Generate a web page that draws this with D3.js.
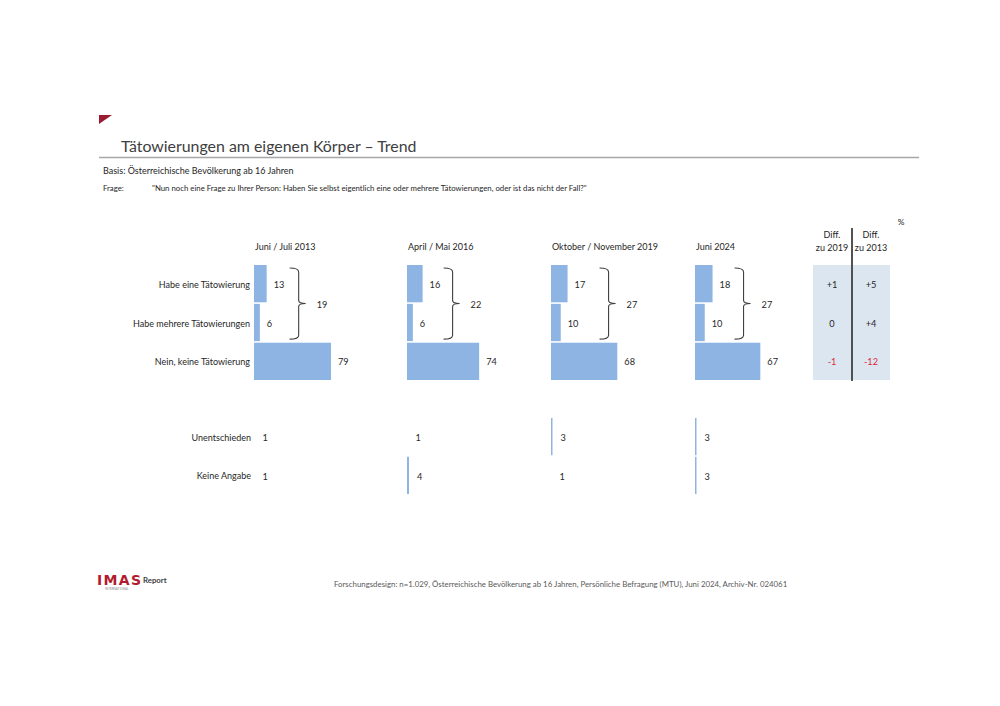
<!DOCTYPE html>
<html>
<head>
<meta charset="utf-8">
<script src="https://cdn.jsdelivr.net/npm/d3@7"></script>
<style>
  html, body { margin: 0; padding: 0; background: #fff; }
  svg text { font-family: Lato, "Open Sans", sans-serif; fill: #262626; }
</style>
</head>
<body>
<svg id="chart" width="1000" height="706"></svg>
<script>
// Daten
const WAVES = ["Juni / Juli 2013", "April / Mai 2016", "Oktober / November 2019", "Juni 2024"];
const ROWS = ["Habe eine Tätowierung", "Habe mehrere Tätowierungen", "Nein, keine Tätowierung"];
const EINE = [13, 16, 17, 18];
const MEHRERE = [6, 6, 10, 10];
const GESAMT = [19, 22, 27, 27];
const NEIN = [79, 74, 68, 67];
const LOW_ROWS = ["Unentschieden", "Keine Angabe"];
const UNENTSCHIEDEN = [1, 1, 3, 3];
const KEINE_ANGABE = [1, 4, 1, 3];
const DIFF_HEAD = [["Diff.", "zu 2019"], ["Diff.", "zu 2013"]];
const DIFF_2019 = ["+1", "0", "-1"];
const DIFF_2013 = ["+5", "+4", "-12"];

// Layout
const PANEL_X = [254, 407, 551, 695];
const BRACE_GAP = [23, 21, 32, 22];
const BAR = "#8eb4e3";
const FS = 9;

const svg = d3.select("#chart");

// Kopf
svg.append("path").attr("d", "M99,115 L112,115 L99,124 Z").attr("fill", "#9b1c31");
svg.append("text").attr("x", 121).attr("y", 152).attr("font-size", 15.9).style("fill", "#404040")
  .text("Tätowierungen am eigenen Körper – Trend");
svg.append("line").attr("x1", 99).attr("x2", 919).attr("y1", 157.5).attr("y2", 157.5)
  .attr("stroke", "#a6a6a6").attr("stroke-width", 1.5);
svg.append("text").attr("x", 103).attr("y", 174).attr("font-size", 9)
  .text("Basis:  Österreichische Bevölkerung ab 16 Jahren");
svg.append("text").attr("x", 103).attr("y", 191).attr("font-size", 7.8).text("Frage:");
svg.append("text").attr("x", 152).attr("y", 191).attr("font-size", 7.8)
  .text("\"Nun noch eine Frage zu Ihrer Person: Haben Sie selbst eigentlich eine oder mehrere Tätowierungen, oder ist das nicht der Fall?\"");

// Skalen
const x = d3.scaleLinear().domain([0, 100]).range([0, 97.5]);
const xLow = d3.scaleLinear().domain([0, 100]).range([0, 50]);
const y = d3.scaleBand().domain(ROWS).range([265, 380]).paddingInner(0.04);
const yLow = d3.scaleBand().domain(LOW_ROWS).range([418, 494]).paddingInner(0.04);
const DY = "0.45em";

// Zeilenbeschriftung
svg.append("g").selectAll("text").data(ROWS).join("text")
  .attr("x", 250).attr("y", (d) => y(d) + y.bandwidth() / 2).attr("dy", DY)
  .attr("text-anchor", "end").attr("font-size", FS).text((d) => d);
svg.append("g").selectAll("text").data(LOW_ROWS).join("text")
  .attr("x", 251).attr("y", (d) => yLow(d) + yLow.bandwidth() / 2).attr("dy", DY)
  .attr("text-anchor", "end").attr("font-size", FS).text((d) => d);

WAVES.forEach((w, i) => {
  const g = svg.append("g").attr("transform", `translate(${PANEL_X[i]},0)`);
  g.append("text").attr("x", 1).attr("y", 250).attr("font-size", FS).text(w);

  const vals = [EINE[i], MEHRERE[i], NEIN[i]];
  const data = ROWS.map((r, k) => ({ r, v: vals[k] }));
  g.selectAll("rect.bar").data(data).join("rect").attr("class", "bar")
    .attr("x", 0).attr("y", (d) => y(d.r)).attr("width", (d) => x(d.v))
    .attr("height", y.bandwidth()).attr("fill", BAR);
  g.selectAll("text.val").data(data).join("text").attr("class", "val")
    .attr("x", (d) => x(d.v) + 7).attr("y", (d) => y(d.r) + y.bandwidth() / 2).attr("dy", DY)
    .attr("font-size", 9.2).text((d) => d.v);

  // Klammer
  const bx = x(Math.max(EINE[i], MEHRERE[i])) + BRACE_GAP[i];
  const y0 = y(ROWS[0]) + 3, y1 = y(ROWS[1]) + y.bandwidth() - 2, ym = (y0 + y1) / 2;
  const w2 = 9;
  g.append("path")
    .attr("d", `M${bx},${y0} Q${bx + w2},${y0} ${bx + w2},${y0 + 4} L${bx + w2},${ym - 3} Q${bx + w2},${ym} ${bx + w2 + 7},${ym}` +
      ` M${bx + w2 + 7},${ym} Q${bx + w2},${ym} ${bx + w2},${ym + 3} L${bx + w2},${y1 - 4} Q${bx + w2},${y1} ${bx},${y1}`)
    .attr("fill", "none").attr("stroke", "#404040").attr("stroke-width", 1.1);
  g.append("text").attr("x", bx + 27).attr("y", ym).attr("dy", DY)
    .attr("font-size", 9.2).text(GESAMT[i]);

  // Unentschieden / Keine Angabe
  const low = [{ r: LOW_ROWS[0], v: UNENTSCHIEDEN[i] }, { r: LOW_ROWS[1], v: KEINE_ANGABE[i] }];
  g.selectAll("rect.low").data(low).join("rect").attr("class", "low")
    .attr("x", 0).attr("y", (d) => yLow(d.r)).attr("width", (d) => xLow(d.v))
    .attr("height", yLow.bandwidth()).attr("fill", BAR).attr("opacity", (d) => d.v > 1 ? 1 : 0);
  g.selectAll("text.lv").data(low).join("text").attr("class", "lv")
    .attr("x", (d) => xLow(d.v) + 8).attr("y", (d) => yLow(d.r) + yLow.bandwidth() / 2).attr("dy", DY)
    .attr("font-size", 9.2).text((d) => d.v);
});

// Differenzen
const cols = [832, 871];
svg.append("rect").attr("x", 813).attr("y", 265).attr("width", 77).attr("height", 115).attr("fill", "#dce6f1");
svg.append("line").attr("x1", 852).attr("x2", 852).attr("y1", 228).attr("y2", 381)
  .attr("stroke", "#404040").attr("stroke-width", 1.8);
svg.append("text").attr("x", 901).attr("y", 225).attr("text-anchor", "middle").attr("font-size", 8.4).text("%");
DIFF_HEAD.forEach((h, c) => {
  h.forEach((t, k) => svg.append("text").attr("x", cols[c]).attr("y", 238 + k * 12.5)
    .attr("text-anchor", "middle").attr("font-size", FS).text(t));
});
[DIFF_2019, DIFF_2013].forEach((arr, c) => {
  svg.append("g").selectAll("text").data(arr).join("text")
    .attr("x", cols[c]).attr("y", (d, k) => y(ROWS[k]) + y.bandwidth() / 2).attr("dy", DY)
    .attr("text-anchor", "middle").attr("font-size", 9.2)
    .style("fill", (d) => d.startsWith("-") ? "#e0282e" : "#262626").text((d) => d);
});

// Fuß
const logo = svg.append("g").attr("transform", "translate(97,585)");
logo.append("text").attr("x", 0).attr("y", 0).attr("font-size", 14).attr("font-weight", 900)
  .style("fill", "#b01c2e").style("font-family", "'DejaVu Sans', sans-serif").attr("textLength", 44).text("IMAS");
logo.append("text").attr("x", 46).attr("y", -2).attr("font-size", 7.8).attr("font-weight", 700)
  .style("fill", "#404040").text("Report");
logo.append("text").attr("x", 8).attr("y", 4.5).attr("font-size", 3).style("fill", "#888").text("INTERNATIONAL");
svg.append("text").attr("x", 334).attr("y", 587).attr("font-size", 7.85).style("fill", "#595959")
  .text("Forschungsdesign: n=1.029, Österreichische  Bevölkerung ab 16 Jahren, Persönliche Befragung (MTU), Juni 2024, Archiv-Nr. 024061");
</script>
</body>
</html>
